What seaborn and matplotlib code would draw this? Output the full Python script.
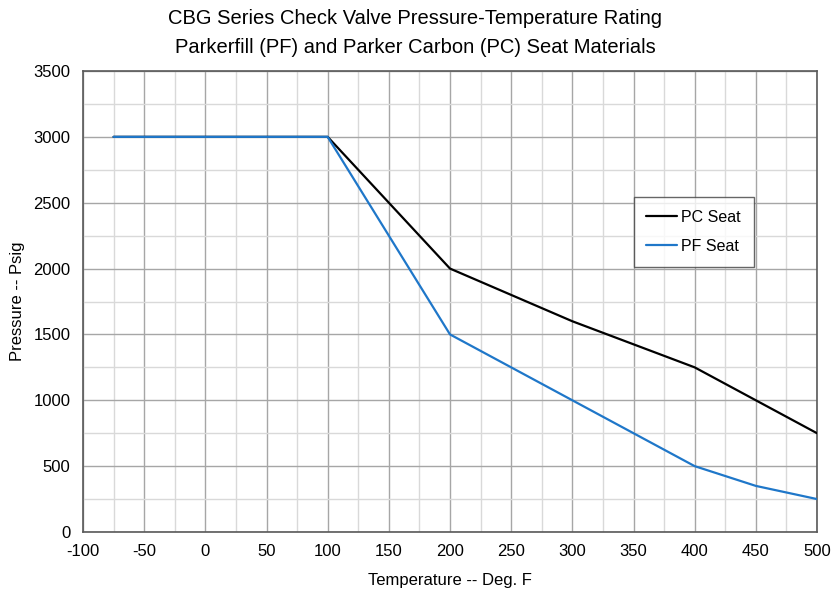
import matplotlib
matplotlib.use("Agg")
import matplotlib.pyplot as plt
from matplotlib.ticker import MultipleLocator
import pandas as pd
import seaborn as sns

sns.set_theme(style="white")
plt.rcParams['font.family'] = ['Liberation Sans', 'DejaVu Sans']
plt.rcParams['axes.unicode_minus'] = False
plt.rcParams['text.color'] = 'black'

# data
temps = [-75, 100, 200, 300, 400, 450, 500]
pc_seat = [3000, 3000, 2000, 1600, 1250, 1000, 750]
pf_seat = [3000, 3000, 1500, 1000, 500, 350, 250]

df = pd.DataFrame({
    'Temperature': temps * 2,
    'Pressure': pc_seat + pf_seat,
    'Seat': ['PC Seat'] * len(temps) + ['PF Seat'] * len(temps),
})

fig = plt.figure(figsize=(8.31, 5.92), dpi=100)
ax = fig.add_axes([83 / 831, 1 - 532 / 592, 734 / 831, 461 / 592])

sns.lineplot(data=df, x='Temperature', y='Pressure', hue='Seat',
             palette={'PC Seat': '#000000', 'PF Seat': '#1f77c9'},
             linewidth=1.6, ax=ax, zorder=3)

ax.set_xlim(-100, 500)
ax.set_ylim(0, 3500)
ax.xaxis.set_major_locator(MultipleLocator(50))
ax.xaxis.set_minor_locator(MultipleLocator(25))
ax.yaxis.set_major_locator(MultipleLocator(500))
ax.yaxis.set_minor_locator(MultipleLocator(250))
ax.grid(which='major', color='#a6a6a6', linewidth=1.0)
ax.grid(which='minor', color='#d9d9d9', linewidth=1.0)
ax.set_axisbelow(True)
for s in ax.spines.values():
    s.set_color('#595959')
    s.set_linewidth(1.2)
ax.tick_params(which='both', length=0, labelsize=12, colors='black', pad=9)

ax.set_xlabel('Temperature -- Deg. F', fontsize=12, labelpad=10, color='black')
ax.set_ylabel('Pressure -- Psig', fontsize=12, labelpad=6, color='black')
fig.suptitle('CBG Series Check Valve Pressure-Temperature Rating\nParkerfill (PF) and Parker Carbon (PC) Seat Materials',
             fontsize=14.5, y=0.985, linespacing=1.65, color='black')

leg = ax.legend(loc='upper left', bbox_to_anchor=(0.75, 0.727), fontsize=11.5,
                frameon=True, fancybox=False, handlelength=1.9,
                borderpad=0.8, labelspacing=0.9, handletextpad=0.3, borderaxespad=0)
leg.get_frame().set_edgecolor('#404040')
leg.get_frame().set_linewidth(1.0)
for t in leg.get_texts():
    t.set_color('black')

plt.savefig('out.png', dpi=100)
plt.close()
